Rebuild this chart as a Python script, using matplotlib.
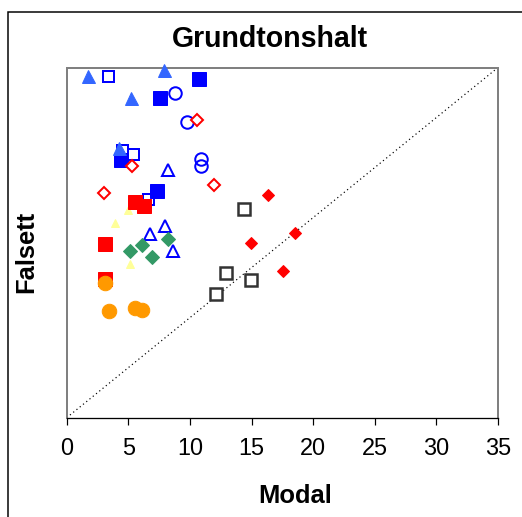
import matplotlib
matplotlib.use("Agg")
import matplotlib.pyplot as plt
from matplotlib.patches import Rectangle

plt.rcParams['font.family'] = ['Liberation Sans', 'DejaVu Sans']

# ---- data (Modal x, Falsett y) ----
blue_tri_x = [1.75, 7.9, 5.2, 4.22]
blue_tri_y = [34.2, 34.8, 32.0, 27.0]

blue_sq_x = [10.74, 7.57, 4.41, 7.35]
blue_sq_y = [33.9, 32.0, 25.8, 22.7]

blue_osq_x = [3.38, 4.49, 5.36, 6.57]
blue_osq_y = [34.2, 26.8, 26.4, 21.9]

blue_circ_x = [8.79, 9.74, 10.9, 10.9]
blue_circ_y = [32.5, 29.6, 25.9, 25.2]

red_odia_x = [10.6, 5.32, 3.05, 11.96]
red_odia_y = [29.8, 25.2, 22.5, 23.3]

blue_otri_x = [8.2, 7.98, 6.76, 8.6]
blue_otri_y = [24.8, 19.2, 18.4, 16.7]

yellow_tri_x = [3.92, 5.0, 5.14]
yellow_tri_y = [19.5, 20.8, 15.4]

red_sq_x = [5.54, 6.27, 3.11, 3.11]
red_sq_y = [21.6, 21.2, 17.4, 13.9]

green_dia_x = [8.2, 6.11, 5.14, 6.92]
green_dia_y = [17.9, 17.3, 16.7, 16.1]

orange_x = [3.11, 3.43, 5.54, 6.09]
orange_y = [13.5, 10.7, 11.0, 10.8]

gray_osq_x = [14.42, 12.9, 14.96, 12.1]
gray_osq_y = [20.9, 14.5, 13.8, 12.4]

red_dia_x = [16.3, 18.55, 14.94, 17.53]
red_dia_y = [22.3, 18.5, 17.5, 14.7]

diag = [0, 35]
xticks = [0, 5, 10, 15, 20, 25, 30, 35]

W, H = 522, 517
fig = plt.figure(figsize=(W / 72, H / 72), dpi=72)
fig.patch.set_facecolor('white')

L, R, T, B = 66.7, 498.0, 67.5, 417.7
ax = fig.add_axes([L / W, 1 - B / H, (R - L) / W, (B - T) / H])

ax.plot(diag, diag, color='black', linestyle=(0, (1, 2.5)), linewidth=1.2, zorder=1)

def pts(x, y, **kw):
    ax.plot(x, y, linestyle='none', clip_on=False, **kw)

pts(blue_osq_x, blue_osq_y, marker='s', ms=11, mfc='white', mec='#0000FF', mew=2, zorder=3)
pts(blue_sq_x, blue_sq_y, marker='s', ms=14.5, mfc='#0000FF', mec='#0000FF', mew=1, zorder=4)
pts(blue_tri_x, blue_tri_y, marker='^', ms=13, mfc='#3366FF', mec='#3366FF', mew=1, zorder=5)
pts(blue_circ_x, blue_circ_y, marker='o', ms=12.5, mfc='none', mec='#0000FF', mew=2, zorder=5)
pts(red_odia_x, red_odia_y, marker='D', ms=8.3, mfc='white', mec='#FF0000', mew=2, zorder=5)
pts(blue_otri_x, blue_otri_y, marker='^', ms=12.5, mfc='white', mec='#0000FF', mew=2, zorder=5)
pts(yellow_tri_x, yellow_tri_y, marker='^', ms=8.5, mfc='#FFFF99', mec='#FFFF99', mew=1, zorder=5)
pts(red_sq_x, red_sq_y, marker='s', ms=14.5, mfc='#FF0000', mec='#FF0000', mew=1, zorder=6)
pts(green_dia_x, green_dia_y, marker='D', ms=9.5, mfc='#339966', mec='#339966', mew=1, zorder=6)
pts(orange_x, orange_y, marker='o', ms=14.5, mfc='#FF9900', mec='#FF9900', mew=1, zorder=7)
pts(gray_osq_x, gray_osq_y, marker='s', ms=12.5, mfc='white', mec='#333333', mew=2.5, zorder=7)
pts(red_dia_x, red_dia_y, marker='D', ms=9, mfc='#FF0000', mec='#FF0000', mew=1, zorder=7)

ax.set_xlim(0, 35)
ax.set_ylim(0, 35)
ax.set_xticks(xticks)
ax.set_xticklabels([str(v) for v in xticks])
ax.set_yticks([])
ax.tick_params(axis='x', direction='out', length=6.5, width=1.2, color='black',
               pad=14, labelsize=23.5, labelcolor='black')
for s in ['top', 'right', 'left']:
    ax.spines[s].set_color('#808080')
    ax.spines[s].set_linewidth(2)
ax.spines['bottom'].set_color('black')
ax.spines['bottom'].set_linewidth(1.3)
ax.spines['bottom'].set_zorder(10)

# outer chart border (extends past right/bottom edges)
fig.patches.append(Rectangle((7.5 / W, -0.1), 1.2, 1 - 11.5 / H + 0.1,
                             transform=fig.transFigure, fill=False,
                             edgecolor='black', linewidth=1.5))

fig.text(270 / W, 1 - 47 / H, 'Grundtonshalt', ha='center', va='baseline',
         fontsize=28.5, fontweight='bold')
fig.text(295 / W, 1 - 503.3 / H, 'Modal', ha='center', va='baseline',
         fontsize=25.5, fontweight='bold')
fig.text(26.7 / W, 1 - 251.5 / H, 'Falsett', ha='center', va='center',
         rotation=90, fontsize=25.5, fontweight='bold')

fig.savefig('out.png', dpi=72, facecolor='white')
